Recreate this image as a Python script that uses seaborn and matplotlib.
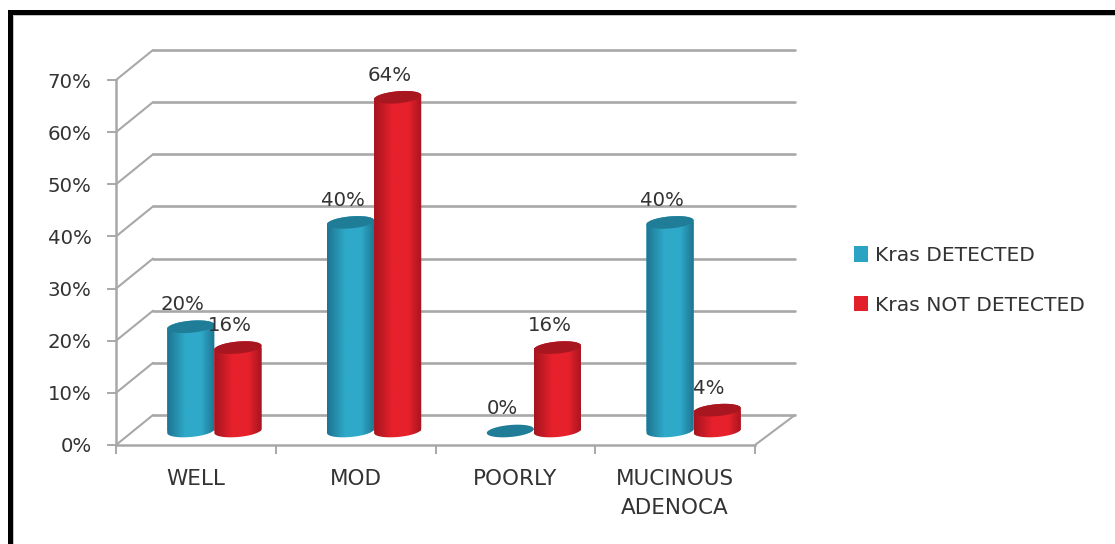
import numpy as np
import pandas as pd
import seaborn as sns
import matplotlib
matplotlib.use("Agg")
import matplotlib.pyplot as plt
from matplotlib.colors import LinearSegmentedColormap
from matplotlib.patches import Polygon, Patch, Rectangle
from matplotlib.path import Path
from matplotlib.transforms import Affine2D

# Chart values
categories = ["WELL", "MOD", "POORLY", "MUCINOUS\nADENOCA"]
series_names = ["Kras DETECTED", "Kras NOT DETECTED"]
detected = [20, 40, 0, 40]
not_detected = [16, 64, 16, 4]
y_ticks = [0, 10, 20, 30, 40, 50, 60, 70]

# Cylinder colours: legend/base, shaded edge, lit centre, top cap
base_colors = ["#2BA3C2", "#E1202A"]
edge_colors = ["#1D7490", "#A5151F"]
mid_colors = ["#2FA9C9", "#E6212C"]
cap_colors = ["#1F7D97", "#A8161F"]
text_color = "#333333"
grid_color = "#A8A8A8"

W, H = 1115, 544
sns.set_style("white")
plt.rcParams["font.family"] = ["DejaVu Sans"]

fig = plt.figure(figsize=(W / 100, H / 100), dpi=100)
fig.patch.set_facecolor("white")
x0, x1, y0, y1 = 116, 755, 445, 80
ax = fig.add_axes([x0 / W, 1 - y0 / H, (x1 - x0) / W, (y0 - y1) / H])
ax.set_facecolor("none")

table = pd.DataFrame({
    "category": categories * 2,
    "series": np.repeat(series_names, len(categories)),
    "value": detected + not_detected,
})
sns.barplot(data=table, x="category", y="value", hue="series",
            palette=base_colors, width=0.59, gap=0, saturation=1,
            legend=False, ax=ax, linewidth=0, zorder=3)

ax.set_xlim(-0.5, 3.5)
ax.set_ylim(0, 70)
px_x = (x1 - x0) / 4.0          # pixels per category
px_y = (y0 - y1) / 70.0         # pixels per percentage point

# Receding wall and floor of the 3-D box
depth_x, depth_y = 37 / px_x, 30 / px_y
back_end = 3.5 + 3 / px_x
for v in y_ticks:
    ax.plot([-0.5, -0.5 + depth_x], [v, v + depth_y], color=grid_color, lw=1.5,
            clip_on=False, zorder=1, solid_capstyle="round")
    ax.plot([-0.5 + depth_x, back_end + depth_x], [v + depth_y, v + depth_y],
            color=grid_color, lw=1.9, clip_on=False, zorder=1)
ax.plot([3.5, back_end + depth_x], [0, depth_y], color=grid_color, lw=1.5,
        clip_on=False, zorder=1)

# Bars stand halfway back on the floor
shift_x, shift_y = 18.5 / px_x, 14 / px_y
shifted = Affine2D().translate(shift_x, shift_y) + ax.transData
half_cap = 6.0 / px_y
tilt = 2.0 / px_y


def ring(cx, half_w, level, start, stop):
    t = np.linspace(start, stop, 60)
    return np.column_stack([cx + half_w * np.cos(t),
                            level + half_cap * np.sin(t) + tilt * np.cos(t)])


for i, container in enumerate(ax.containers):
    cmap = LinearSegmentedColormap.from_list(
        "cyl", [(0, edge_colors[i]), (0.38, mid_colors[i]),
                (0.72, mid_colors[i]), (1, edge_colors[i])])
    shade = np.linspace(0, 1, 128).reshape(1, -1)
    z = 3 + i
    for bar in container:
        left, width, height = bar.get_x(), bar.get_width(), bar.get_height()
        cx, half_w = left + width / 2, width / 2
        outline = np.vstack([ring(cx, half_w, 0, np.pi, 2 * np.pi),
                             ring(cx, half_w, height, 0, np.pi)])
        clip = Path(np.vstack([outline, outline[0]]), closed=True)
        bar.set_transform(shifted)
        bar.set_clip_path(clip, shifted)
        bar.set_zorder(z)
        if height > 0:
            im = ax.imshow(shade, cmap=cmap, aspect="auto", zorder=z,
                           extent=[left, left + width, -half_cap * 2, height + half_cap * 2],
                           transform=shifted, interpolation="bilinear")
            im.set_clip_path(clip, shifted)
        cap = ring(cx, half_w, height, 0, 2 * np.pi)
        ax.add_patch(Polygon(cap, closed=True, facecolor=cap_colors[i], edgecolor="none",
                             transform=shifted, zorder=z + 0.1, clip_on=False))
        ax.text(cx + shift_x - 8 / px_x, height + shift_y + 22 / px_y, f"{height:.0f}%",
                ha="center", va="center", fontsize=14.2, color=text_color, zorder=8)

ax.set_xlim(-0.5, 3.5)
ax.set_ylim(0, 70)

# Axes, ticks and labels
for name in ("top", "right"):
    ax.spines[name].set_visible(False)
for name in ("left", "bottom"):
    ax.spines[name].set_color(grid_color)
    ax.spines[name].set_linewidth(1.8)
ax.set_xlabel("")
ax.set_ylabel("")
ax.set_yticks(y_ticks)
ax.set_yticklabels([f"{v}%" for v in y_ticks], fontsize=14.2, color=text_color)
ax.set_xticks(range(len(categories)))
ax.set_xticklabels(categories, fontsize=15.5, color=text_color, linespacing=1.6)
ax.set_xticks(np.arange(-0.5, 4), minor=True)
ax.tick_params(axis="y", which="major", left=True, length=6.5, width=1.4, color=grid_color, pad=11)
ax.tick_params(axis="x", which="major", bottom=False, pad=13.5)
ax.tick_params(axis="x", which="minor", bottom=True, length=6.5, width=1.4, color=grid_color)

# Legend
handles = [Patch(facecolor=c, edgecolor="none", label=n) for c, n in zip(base_colors, series_names)]
fig.legend(handles=handles, loc="center left", bbox_to_anchor=(854 / W, 1 - 280.5 / H),
           frameon=False, fontsize=14.6, labelcolor=text_color, labelspacing=1.5,
           handlelength=0.7, handleheight=0.8, handletextpad=0.35, borderpad=0, borderaxespad=0)

# Heavy black frame along the top and left edges, with a faint inner shadow
fig.add_artist(Rectangle((9 / W, 1 - 16 / H), 1 - 9 / W, 6 / H, transform=fig.transFigure,
                         facecolor="#C4C4C4", edgecolor="none"))
fig.add_artist(Rectangle((9 / W, 0), 5 / W, 1 - 10 / H, transform=fig.transFigure,
                         facecolor="#C4C4C4", edgecolor="none"))
fig.add_artist(Rectangle((8 / W, 1 - 15 / H), 1 - 8 / W, 5 / H, transform=fig.transFigure,
                         facecolor="black", edgecolor="none"))
fig.add_artist(Rectangle((8 / W, 0), 5 / W, 1 - 10 / H, transform=fig.transFigure,
                         facecolor="black", edgecolor="none"))

fig.savefig("out.png", dpi=100)
